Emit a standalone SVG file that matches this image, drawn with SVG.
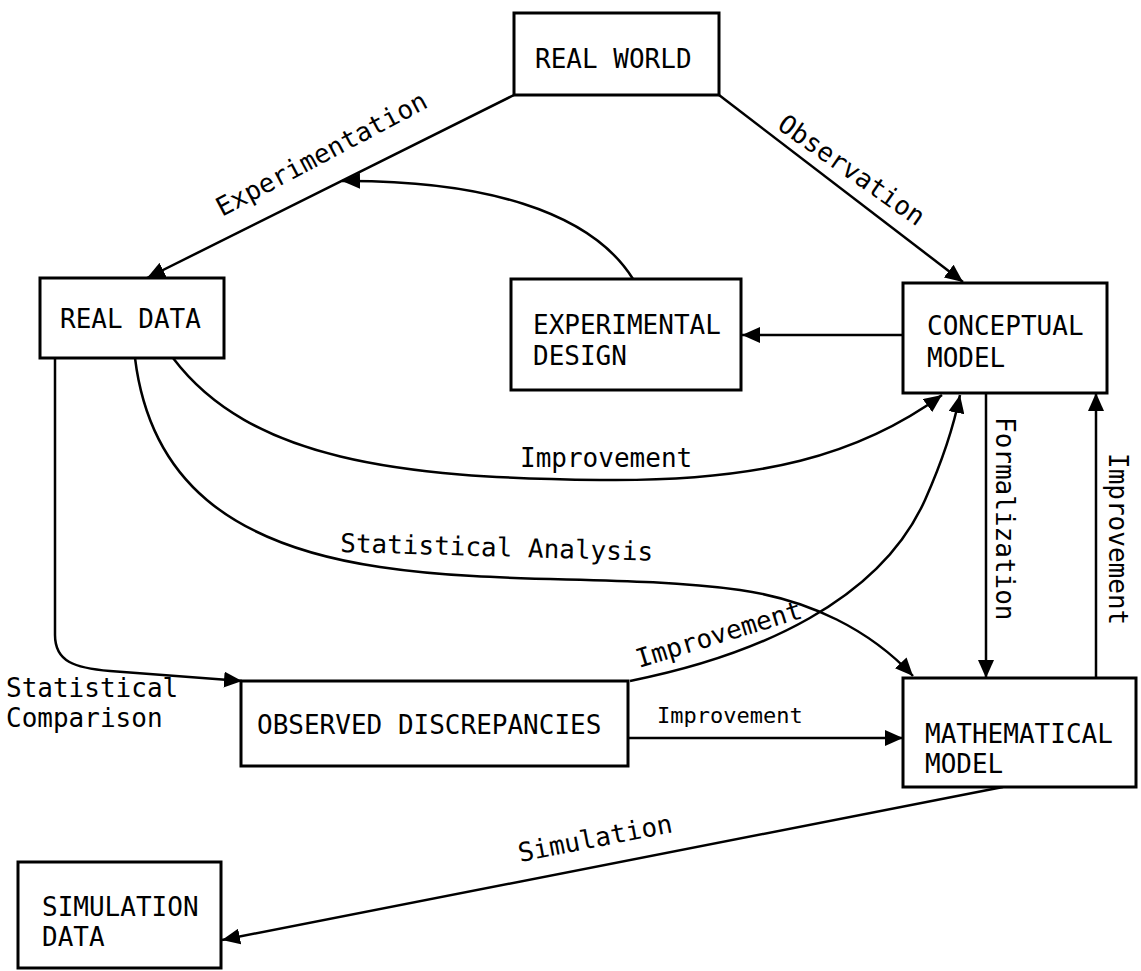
<svg xmlns="http://www.w3.org/2000/svg" width="1141" height="971" viewBox="0 0 1141 971">
  <style>
    .box { fill: #fff; stroke: #000; stroke-width: 3; }
    .lbl { font-family: "DejaVu Sans Mono", "Liberation Mono", monospace; font-size: 26px; fill: #000; }
    .edge { font-family: "DejaVu Sans Mono", "Liberation Mono", monospace; font-size: 26px; fill: #000; }
    .small { font-size: 22px; }
    .conn { fill: none; stroke: #000; stroke-width: 2.5; marker-end: url(#ah); }
  </style>
  <defs>
    <marker id="ah" markerWidth="20" markerHeight="16" refX="18" refY="8" orient="auto" markerUnits="userSpaceOnUse">
      <path d="M0,0 L18,8 L0,16 Z" fill="#000"/>
    </marker>
  </defs>
  <rect width="1141" height="971" fill="#fff"/>

  <!-- connectors -->
  <g id="connectors">
    <!-- Experimentation -->
    <path class="conn" d="M514,95 L147,278"/>
    <!-- Observation -->
    <path class="conn" d="M719,95 L963,282"/>
    <!-- experimental design feeds experimentation -->
    <path class="conn" d="M633,279 C 590,210 480,180 342,181"/>
    <!-- conceptual model to experimental design -->
    <path class="conn" d="M903,335 L742,335"/>
    <!-- real data improvement to conceptual model -->
    <path class="conn" d="M173,358 C 250,460 400,478 600,480 C 760,482 860,455 942,395"/>
    <!-- statistical analysis -->
    <path class="conn" d="M135,358 C 150,480 230,545 380,567 C 500,585 620,574 740,590 C 810,600 870,630 913,676"/>
    <!-- statistical comparison -->
    <path class="conn" d="M55,358 L55,635 C 55,662 75,668 110,671 L242,681"/>
    <!-- discrepancies improvement to conceptual model -->
    <path class="conn" d="M630,681 C 760,655 880,600 925,500 C 945,455 955,420 960,395"/>
    <!-- discrepancies improvement to mathematical model -->
    <path class="conn" d="M628,738 L903,738"/>
    <!-- formalization -->
    <path class="conn" d="M986,393 L986,678"/>
    <!-- improvement back up -->
    <path class="conn" d="M1096,678 L1096,393"/>
    <!-- simulation -->
    <path class="conn" d="M1003,787 L222,940"/>
  </g>

  <!-- connector labels -->
  <g id="edge-labels">
    <text class="edge" transform="translate(222,217) rotate(-28)">Experimentation</text>
    <text class="edge" transform="translate(776,128) rotate(35)">Observation</text>
    <text class="edge" x="520" y="467">Improvement</text>
    <text class="edge" transform="translate(340,552) rotate(1.6)">Statistical Analysis</text>
    <text class="edge" x="6" y="697">Statistical</text>
    <text class="edge" x="6" y="727">Comparison</text>
    <text class="edge" transform="translate(639,668) rotate(-17)">Improvement</text>
    <text class="edge small" x="657" y="723">Improvement</text>
    <text class="edge" transform="translate(996,417) rotate(90)">Formalization</text>
    <text class="edge" transform="translate(1109,453) rotate(90)">Improvement</text>
    <text class="edge" transform="translate(520,862) rotate(-11)">Simulation</text>
  </g>

  <g id="real-world">
    <rect class="box" x="514" y="13" width="205" height="82"/>
    <text class="lbl" x="535" y="68">REAL WORLD</text>
  </g>
  <g id="real-data">
    <rect class="box" x="40" y="278" width="184" height="80"/>
    <text class="lbl" x="60" y="328">REAL DATA</text>
  </g>
  <g id="experimental-design">
    <rect class="box" x="511" y="279" width="230" height="111"/>
    <text class="lbl" x="533" y="334">EXPERIMENTAL</text>
    <text class="lbl" x="533" y="365">DESIGN</text>
  </g>
  <g id="conceptual-model">
    <rect class="box" x="903" y="283" width="204" height="110"/>
    <text class="lbl" x="927" y="335">CONCEPTUAL</text>
    <text class="lbl" x="927" y="367">MODEL</text>
  </g>
  <g id="observed-discrepancies">
    <rect class="box" x="241" y="681" width="387" height="85"/>
    <text class="lbl" x="257" y="734">OBSERVED DISCREPANCIES</text>
  </g>
  <g id="mathematical-model">
    <rect class="box" x="903" y="678" width="233" height="109"/>
    <text class="lbl" x="925" y="743">MATHEMATICAL</text>
    <text class="lbl" x="925" y="773">MODEL</text>
  </g>
  <g id="simulation-data">
    <rect class="box" x="18" y="862" width="203" height="106"/>
    <text class="lbl" x="42" y="916">SIMULATION</text>
    <text class="lbl" x="42" y="946">DATA</text>
  </g>
</svg>
